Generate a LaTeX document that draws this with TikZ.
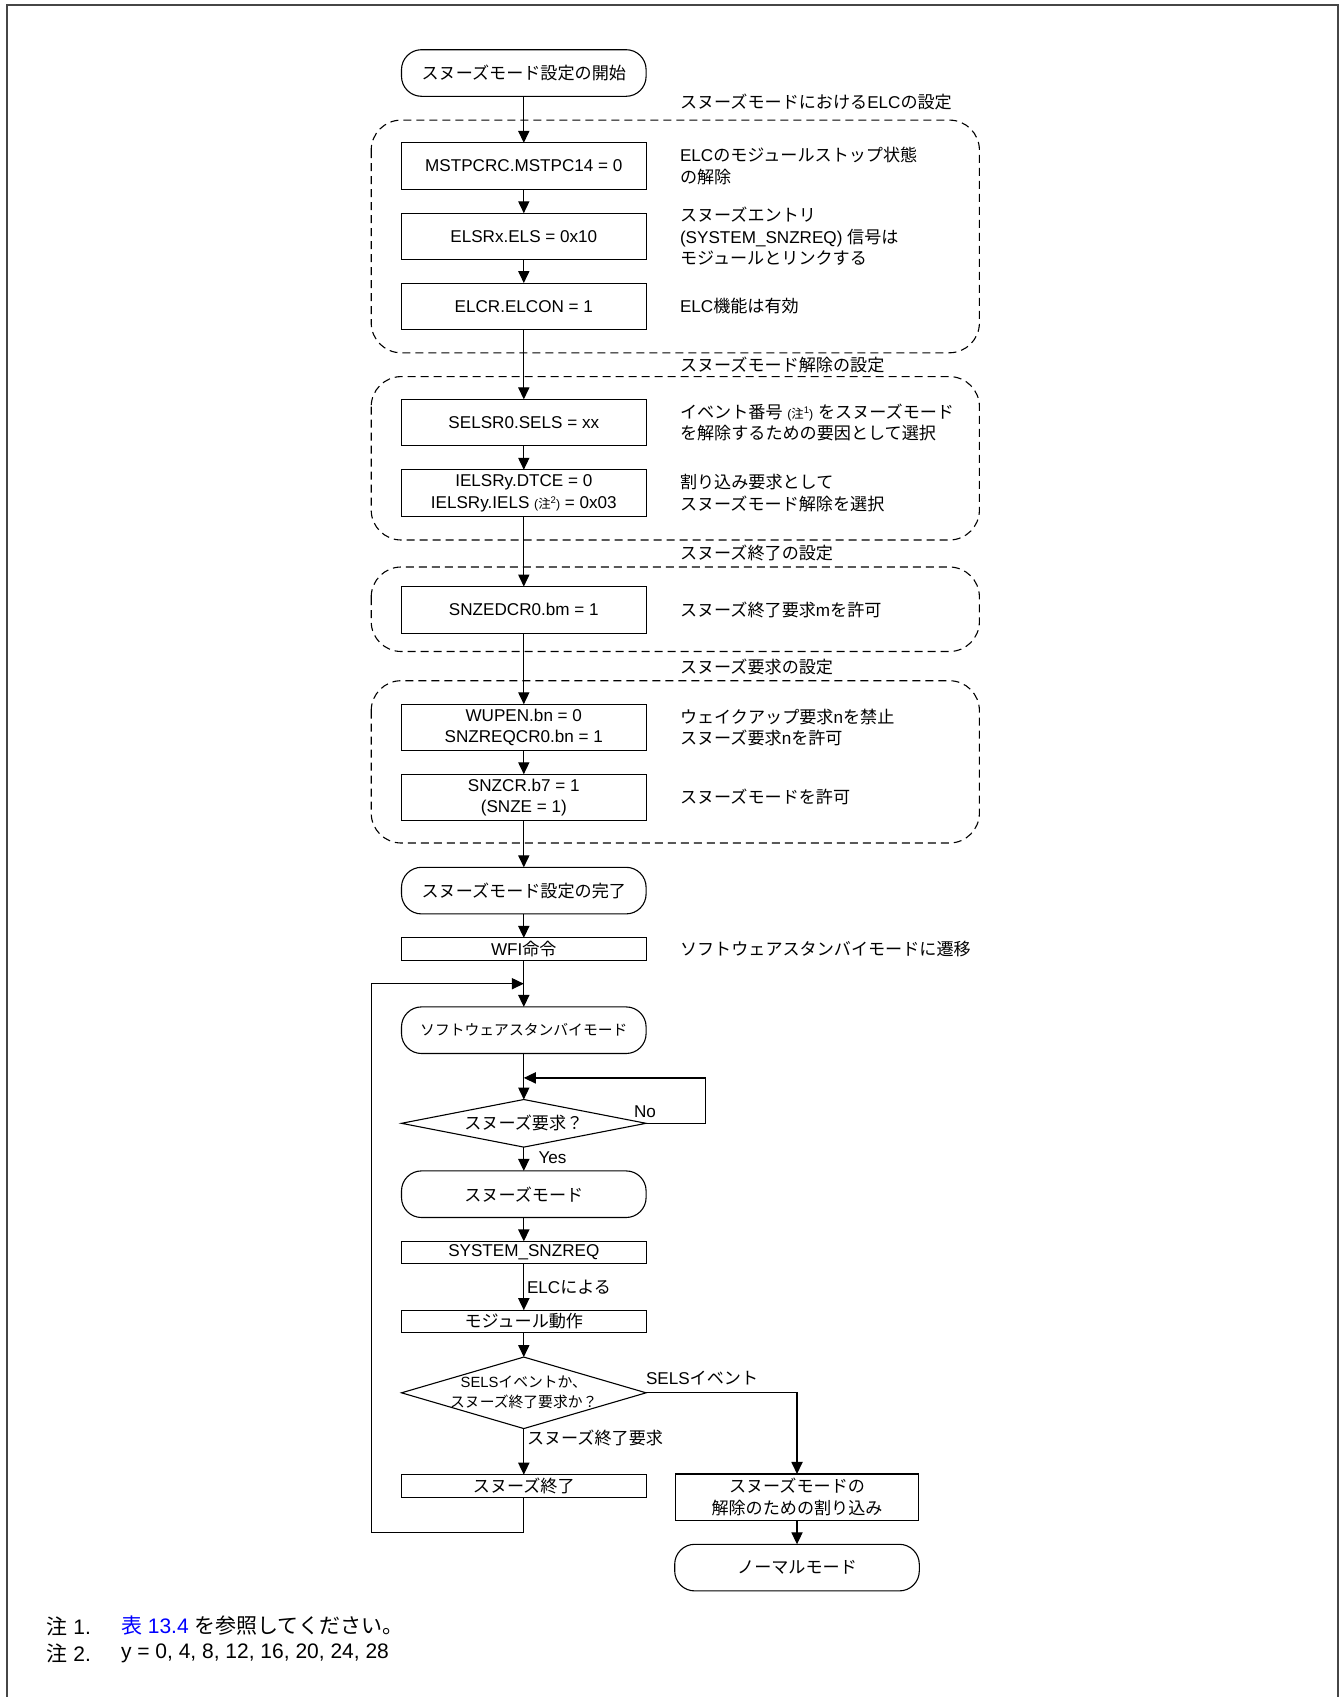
\documentclass[tikz,border=0pt]{standalone}
\usepackage{fontspec}
\setmainfont{Liberation Sans}
\newfontfamily\jpfont{Noto Sans CJK JP}
\newcommand\jp[1]{{\jpfont #1}}
\newcommand\fmain{\fontsize{8.55}{10.8}\selectfont}
\newcommand\fsmall{\fontsize{7.4}{10.3}\selectfont}
\newcommand\fnote{\fontsize{10.5}{13}\selectfont}
\newcommand\chunote[1]{{\fontsize{6.2}{7}\selectfont(\jp{注}\raisebox{0.75ex}{\fontsize{4.8}{5}\selectfont #1})}}
\usetikzlibrary{shapes.geometric,arrows.meta}
\definecolor{framegray}{RGB}{70,70,70}
\definecolor{linkblue}{RGB}{0,0,255}
\begin{document}
\begin{tikzpicture}[x=0.5pt,y=-0.5pt,
  every node/.style={inner sep=0pt, outer sep=0pt, font=\fmain},
  arr/.style={line width=0.6pt, -{Triangle[length=6pt,width=5.6pt]}},
  proc/.style={draw, line width=0.55pt, rectangle, minimum width=122.3pt, minimum height=23.25pt, align=center},
  thinproc/.style={proc, minimum height=11.2pt},
  term/.style={draw, line width=0.55pt, rounded corners=10pt, minimum width=122.3pt, minimum height=23.3pt, align=center},
  dec/.style={draw, line width=0.55pt, diamond, minimum width=122.3pt, minimum height=23.8pt},
  grp/.style={draw, line width=0.55pt, dash pattern=on 4pt off 2.5pt, rounded corners=15pt},
  note/.style={anchor=west, align=left},
  hdr/.style={anchor=west}
]
\useasboundingbox (0,0) rectangle (1343,1697);
\draw[line width=0.85pt, framegray] (6.7,1697) -- (6.7,5) -- (1338,5) -- (1338,1697);

% group 1
\node[term] (start) at (523.8,73) {\jp{スヌーズモード設定の開始}};
\node[hdr] (h1) at (680,101.7) {\jp{スヌーズモードにおける}ELC\jp{の設定}};
\draw[grp] (371.2,120.1) rectangle (979.4,352.8);
\node[proc] (mst) at (523.8,166.1) {MSTPCRC.MSTPC14 = 0};
\node[note] (t1) at (680,166.1) {ELC\jp{のモジュールストップ状態}\\\jp{の解除}};
\node[proc] (elsr) at (523.8,236.5) {ELSRx.ELS = 0x10};
\node[note] (t2) at (680,236.5) {\jp{スヌーズエントリ}\\(SYSTEM\_SNZREQ) \jp{信号は}\\\jp{モジュールとリンクする}};
\node[proc] (elcr) at (523.8,306.3) {ELCR.ELCON = 1};
\node[note] (t3) at (680,306.3) {ELC\jp{機能は有効}};

% group 2
\node[hdr] (h2) at (680,364.7) {\jp{スヌーズモード解除の設定}};
\draw[grp] (371.2,376.6) rectangle (979.4,540);
\node[proc] (sels) at (523.8,422.6) {SELSR0.SELS = xx};
\node[note] (t4) at (680,422.6) {\jp{イベント番号} \chunote{1} \jp{をスヌーズモード}\\\jp{を解除するための要因として選択}};
\node[proc] (iels) at (523.8,493) {IELSRy.DTCE = 0\\IELSRy.IELS \chunote{2} = 0x03};
\node[note] (t5) at (680,493) {\jp{割り込み要求として}\\\jp{スヌーズモード解除を選択}};

% group 3
\node[hdr] (h3) at (680,553) {\jp{スヌーズ終了の設定}};
\draw[grp] (371.2,567) rectangle (979.4,651.5);
\node[proc] (snzed) at (523.8,609.8) {SNZEDCR0.bm = 1};
\node[note] (t6) at (680,609.8) {\jp{スヌーズ終了要求}m\jp{を許可}};

% group 4
\node[hdr] (h4) at (680,666.6) {\jp{スヌーズ要求の設定}};
\draw[grp] (371.2,680.7) rectangle (979.4,843);
\node[proc] (wupen) at (523.8,727.5) {WUPEN.bn = 0\\SNZREQCR0.bn = 1};
\node[note] (t7) at (680,727.5) {\jp{ウェイクアップ要求}n\jp{を禁止}\\\jp{スヌーズ要求}n\jp{を許可}};
\node[proc] (snzcr) at (523.8,797.5) {SNZCR.b7 = 1\\(SNZE = 1)};
\node[note] (t8) at (680,797) {\jp{スヌーズモードを許可}};

% lower flow
\node[term] (endt) at (523.8,890.6) {\jp{スヌーズモード設定の完了}};
\node[thinproc] (wfi) at (523.8,949.1) {WFI\jp{命令}};
\node[note] (t9) at (680,949.1) {\jp{ソフトウェアスタンバイモードに遷移}};
\coordinate (loopin) at (523.8,983.7);
\node[term, font=\fsmall] (sw) at (523.8,1030.2) {\jp{ソフトウェアスタンバイモード}};
\coordinate (noin) at (523.8,1077.9);
\node[dec] (d1) at (523.8,1123.3) {};
\node (d1t) at (523.8,1123.3) {\jp{スヌーズ要求？}};
\node (no) at (645,1111.4) {No};
\node (yes) at (552.5,1158) {Yes};
\node[term] (snz) at (523.8,1194.2) {\jp{スヌーズモード}};
\node[thinproc] (sys) at (523.8,1252.6) {SYSTEM\_SNZREQ};
\node[anchor=west] (elc) at (527,1286.7) {ELC\jp{による}};
\node[thinproc] (mod) at (523.8,1321.4) {\jp{モジュール動作}};
\node[dec, minimum height=35.75pt] (d2) at (523.8,1392.8) {};
\node[font=\fsmall, align=center] (d2t) at (523.8,1392.3) {SELS\jp{イベントか、}\\\jp{スヌーズ終了要求か？}};
\node[anchor=west] (selsev) at (646,1377.6) {SELS\jp{イベント}};
\node[anchor=west] (finreq) at (527,1438.2) {\jp{スヌーズ終了要求}};
\node[thinproc] (fin) at (523.8,1485.9) {\jp{スヌーズ終了}};
\node[proc, minimum width=121.75pt] (intr) at (797,1497.2) {\jp{スヌーズモードの}\\\jp{解除のための割り込み}};
\node[term] (norm) at (797,1567.6) {\jp{ノーマルモード}};

% connectors
\draw[arr] (start.south) -- (mst.north);
\draw[arr] (mst.south) -- (elsr.north);
\draw[arr] (elsr.south) -- (elcr.north);
\draw[arr] (elcr.south) -- (sels.north);
\draw[arr] (sels.south) -- (iels.north);
\draw[arr] (iels.south) -- (snzed.north);
\draw[arr] (snzed.south) -- (wupen.north);
\draw[arr] (wupen.south) -- (snzcr.north);
\draw[arr] (snzcr.south) -- (endt.north);
\draw[arr] (endt.south) -- (wfi.north);
\draw[arr] (wfi.south) -- (sw.north);
\draw[arr] (fin.south) |- (371.2,1532.4) |- (loopin);
\draw[arr] (sw.south) -- (d1.north);
\draw[arr] (d1.east) -- (705.6,1123.3) |- (noin);
\draw[arr] (d1.south) -- (snz.north);
\draw[arr] (snz.south) -- (sys.north);
\draw[arr] (sys.south) -- (mod.north);
\draw[arr] (mod.south) -- (d2.north);
\draw[arr] (d2.south) -- (fin.north);
\draw[arr] (d2.east) -| (intr.north);
\draw[arr] (intr.south) -- (norm.north);

% notes
\node[anchor=west, font=\fnote] (n1a) at (46.5,1626) {\jp{注} 1.};
\node[anchor=west, font=\fnote] (n1b) at (121,1626) {\textcolor{linkblue}{\jp{表} 13.4} \jp{を参照してください。}};
\node[anchor=west, font=\fnote] (n2a) at (46.5,1653) {\jp{注} 2.};
\node[anchor=west, font=\fnote] (n2b) at (121,1653) {y = 0, 4, 8, 12, 16, 20, 24, 28};
\end{tikzpicture}
\end{document}
